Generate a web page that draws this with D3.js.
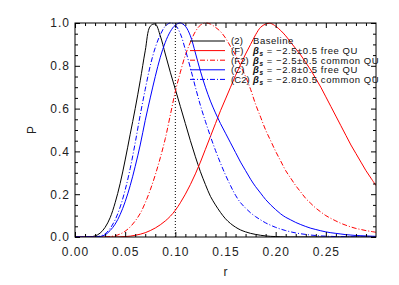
<!DOCTYPE html>
<html><head><meta charset="utf-8">
<script src="https://cdn.jsdelivr.net/npm/d3@7"></script>
<style>body{margin:0;background:#fff} svg{display:block}</style>
</head><body><svg id="c" width="399" height="285"></svg>
<script>
// r grid (step 0.005)
const rGrid = [0,0.005,0.01,0.015,0.02,0.025,0.03,0.035,0.04,0.045,0.05,0.055,0.06,0.065,0.07,0.075,0.08,0.085,0.09,0.095,
0.1,0.105,0.11,0.115,0.12,0.125,0.13,0.135,0.14,0.145,0.15,0.155,0.16,0.165,0.17,0.175,0.18,0.185,0.19,0.195,
0.2,0.205,0.21,0.215,0.22,0.225,0.23,0.235,0.24,0.245,0.25,0.255,0.26,0.265,0.27,0.275,0.28,0.285,0.29,0.295,0.3];
// (2) Baseline
const pBaseline = [0,0,0,0.001,0.005,0.018,0.045,0.09,0.16,0.25,0.36,0.48,0.60,0.73,0.87,0.985,0.995,0.94,0.855,0.77,
0.69,0.61,0.53,0.45,0.375,0.305,0.245,0.19,0.15,0.115,0.085,0.063,0.046,0.033,0.024,0.017,0.012,0.008,0.005,0.003,
0.002,0.001,0,0,0,0,0,0,0,0,0,0,0,0,0,0,0,0,0,0,0];
// (F) beta=-2.5 free QU
const pF = [0,0,0,0,0,0,0,0,0,0.001,0.002,0.004,0.008,0.013,0.02,0.03,0.042,0.057,0.075,0.097,
0.125,0.16,0.20,0.245,0.295,0.35,0.41,0.47,0.53,0.59,0.645,0.70,0.755,0.805,0.855,0.90,0.945,0.98,0.995,0.998,
0.985,0.965,0.94,0.91,0.88,0.85,0.815,0.78,0.74,0.70,0.655,0.61,0.565,0.52,0.475,0.43,0.39,0.35,0.31,0.275,0.24];
// (F2) beta=-2.5 common QU
const pF2 = [0,0,0,0,0,0,0,0.002,0.006,0.014,0.027,0.047,0.075,0.11,0.16,0.22,0.29,0.37,0.46,0.57,
0.68,0.77,0.85,0.91,0.96,0.99,1.0,0.995,0.98,0.96,0.93,0.89,0.85,0.80,0.75,0.69,0.62,0.56,0.50,0.45,
0.40,0.355,0.31,0.275,0.24,0.21,0.18,0.157,0.135,0.117,0.10,0.087,0.075,0.064,0.055,0.047,0.04,0.035,0.03,0.026,0.022];
// (C) beta=-2.8 free QU
const pC = [0,0,0,0,0,0.002,0.01,0.03,0.06,0.105,0.165,0.24,0.33,0.43,0.545,0.65,0.75,0.84,0.91,0.96,
0.99,1.0,0.985,0.94,0.86,0.775,0.70,0.635,0.58,0.53,0.485,0.44,0.395,0.35,0.31,0.27,0.235,0.205,0.175,0.15,
0.128,0.108,0.092,0.08,0.068,0.058,0.049,0.041,0.035,0.029,0.024,0.02,0.017,0.014,0.011,0.009,0.007,0.006,0.005,0.004,0.003];
// (C2) beta=-2.8 common QU
const pC2 = [0,0,0,0,0.001,0.004,0.015,0.04,0.08,0.14,0.22,0.32,0.44,0.57,0.69,0.80,0.885,0.945,0.985,1.0,
0.99,0.95,0.875,0.79,0.70,0.615,0.54,0.47,0.405,0.345,0.29,0.24,0.195,0.16,0.135,0.113,0.095,0.08,0.066,0.055,
0.045,0.037,0.03,0.024,0.019,0.015,0.012,0.009,0.007,0.005,0.004,0.003,0.002,0.002,0.001,0.001,0,0,0,0,0];

const xTicks = [0, 0.05, 0.10, 0.15, 0.20, 0.25];
const yTicks = [0, 0.2, 0.4, 0.6, 0.8, 1.0];
const seriesTags = ["(2)", "(F)", "(F2)", "(C)", "(C2)"];
const seriesText = ["Baseline", " = \u22122.5\u00b10.5 free QU", " = \u22122.5\u00b10.5 common QU", " = \u22122.8\u00b10.5 free QU", " = \u22122.8\u00b10.5 common QU"];
const seriesData = [pBaseline, pF, pF2, pC, pC2];
const seriesColor = ["#000", "#ff0000", "#ff0000", "#0000ff", "#0000ff"];
const seriesDash = [null, null, "5,2,1,2", null, "5,2,1,2"];
const markerR = 0.10;

const svg = d3.select("#c");
const L = 75, R = 376, T = 23, B = 237;
const x = d3.scaleLinear().domain([0, 0.3]).range([L, R]);
const y = d3.scaleLinear().domain([0, 1]).range([B, T]);
const font = "'Liberation Sans', Arial, sans-serif";

const line = d3.line().x((d, i) => x(rGrid[i])).y(d => y(d)).curve(d3.curveCatmullRom);

const plot = svg.append("g");
plot.append("defs").append("clipPath").attr("id", "clip")
  .append("rect").attr("x", L).attr("y", T - 2).attr("width", R - L).attr("height", B - T + 2);

// dotted marker at r = 0.1
plot.append("line").attr("x1", x(markerR)).attr("x2", x(markerR)).attr("y1", y(0)).attr("y2", y(1))
  .attr("stroke", "#000").attr("stroke-width", 1).attr("stroke-dasharray", "1,2");

const curves = plot.append("g").attr("clip-path", "url(#clip)");
seriesData.forEach((d, k) => {
  curves.append("path").attr("d", line(d)).attr("fill", "none")
    .attr("stroke", seriesColor[k]).attr("stroke-width", 1)
    .attr("stroke-dasharray", seriesDash[k]);
});

// axes
function styleAxis(g) {
  g.select(".domain").remove();
  g.selectAll("line").attr("stroke", "#000");
  g.selectAll("text").attr("font-family", font).attr("font-size", 12).attr("letter-spacing", 1).attr("fill", "#222");
}
const xMinor = d3.range(1, 30).filter(i => i % 5 !== 0).map(i => i / 100);
const yMinor = d3.range(1, 20).filter(i => i % 4 !== 0).map(i => i / 20);

svg.append("g").attr("transform", `translate(0,${B})`)
  .call(d3.axisBottom(x).tickValues(xTicks).tickFormat(d3.format(".2f")).tickSizeInner(-5).tickSizeOuter(0).tickPadding(10))
  .call(styleAxis);
svg.append("g").attr("transform", `translate(0,${B})`)
  .call(d3.axisBottom(x).tickValues(xMinor).tickFormat("").tickSizeInner(-3).tickSizeOuter(0)).call(styleAxis);
svg.append("g").attr("transform", `translate(0,${T})`)
  .call(d3.axisTop(x).tickValues(xTicks).tickFormat("").tickSizeInner(-5).tickSizeOuter(0)).call(styleAxis);
svg.append("g").attr("transform", `translate(0,${T})`)
  .call(d3.axisTop(x).tickValues(xMinor).tickFormat("").tickSizeInner(-3).tickSizeOuter(0)).call(styleAxis);

svg.append("g").attr("transform", `translate(${L},0)`)
  .call(d3.axisLeft(y).tickValues(yTicks).tickFormat(d3.format(".1f")).tickSizeInner(-5).tickSizeOuter(0).tickPadding(5))
  .call(styleAxis);
svg.append("g").attr("transform", `translate(${L},0)`)
  .call(d3.axisLeft(y).tickValues(yMinor).tickFormat("").tickSizeInner(-3).tickSizeOuter(0)).call(styleAxis);
svg.append("g").attr("transform", `translate(${R},0)`)
  .call(d3.axisRight(y).tickValues(yTicks).tickFormat("").tickSizeInner(-5).tickSizeOuter(0)).call(styleAxis);
svg.append("g").attr("transform", `translate(${R},0)`)
  .call(d3.axisRight(y).tickValues(yMinor).tickFormat("").tickSizeInner(-3).tickSizeOuter(0)).call(styleAxis);

svg.append("rect").attr("x", L).attr("y", T).attr("width", R - L).attr("height", B - T)
  .attr("fill", "none").attr("stroke", "#000").attr("stroke-width", 1);

// axis titles
svg.append("text").attr("x", (L + R) / 2).attr("y", 276).attr("text-anchor", "middle")
  .attr("font-family", font).attr("font-size", 12).attr("fill", "#222").text("r");
svg.append("text").attr("transform", `translate(36,${(T + B) / 2}) rotate(-90)`).attr("text-anchor", "middle")
  .attr("font-family", font).attr("font-size", 12).attr("fill", "#222").text("P");

// legend
const lg = svg.append("g");
const rowY = [41, 50.6, 60.2, 69.8, 79.4];
seriesTags.forEach((tag, k) => {
  const yy = rowY[k];
  lg.append("line").attr("x1", 190).attr("x2", 225).attr("y1", yy).attr("y2", yy)
    .attr("stroke", seriesColor[k]).attr("stroke-width", 1).attr("stroke-dasharray", seriesDash[k]);
  lg.append("text").attr("x", 231).attr("y", yy + 3.3).attr("font-family", font).attr("font-size", 9.5)
    .attr("letter-spacing", 0.1).attr("fill", "#111").text(tag);
  const t = lg.append("text").attr("x", 253).attr("y", yy + 3.3).attr("font-family", font).attr("font-size", 9.5)
    .attr("letter-spacing", 0.55).attr("fill", "#111");
  if (k > 0) {
    t.append("tspan").attr("font-weight", "bold").attr("font-style", "italic").text("\u03b2");
    t.append("tspan").attr("font-weight", "bold").attr("font-style", "italic").attr("font-size", 6.5).attr("dy", 2).text("s");
    t.append("tspan").attr("dy", -2).text(seriesText[k]);
  } else {
    t.text(seriesText[k]);
  }
});
</script></body></html>
